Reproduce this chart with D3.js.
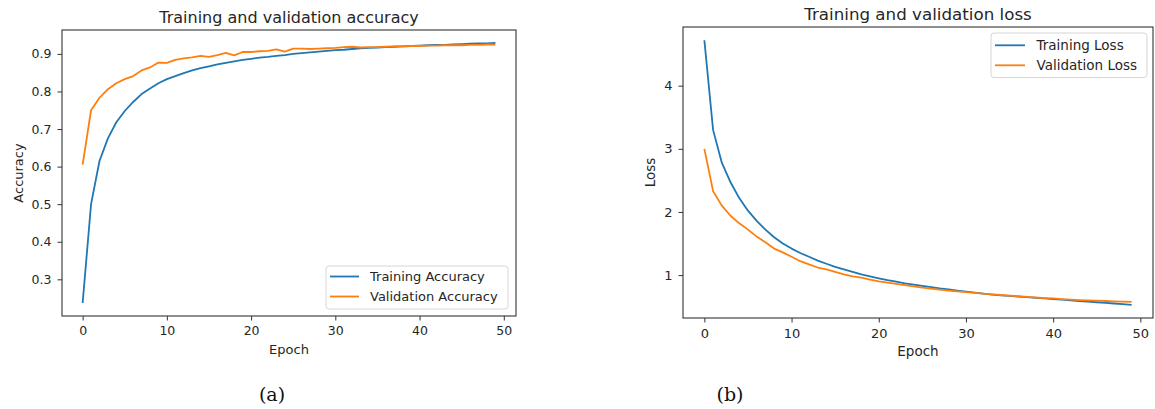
<!DOCTYPE html>
<html>
<head>
<meta charset="utf-8">
<script src="https://cdn.jsdelivr.net/npm/d3@7"></script>
<style>
  body { margin: 0; background: #fff; }
  svg { display: block; font-family: "DejaVu Sans", sans-serif; }
</style>
</head>
<body>
<svg width="1155" height="409"></svg>
<script>
// values (epoch = index)
const trainAcc = [0.237, 0.500, 0.615, 0.675, 0.718, 0.748, 0.772, 0.793, 0.808, 0.822,
  0.833, 0.841, 0.849, 0.856, 0.862, 0.867, 0.872, 0.876, 0.880, 0.884,
  0.887, 0.890, 0.892, 0.895, 0.897, 0.900, 0.902, 0.904, 0.906, 0.908,
  0.910, 0.911, 0.913, 0.915, 0.916, 0.917, 0.918, 0.919, 0.920, 0.921,
  0.922, 0.923, 0.924, 0.924, 0.925, 0.926, 0.927, 0.928, 0.928, 0.929]
const valAcc = [0.605, 0.750, 0.783, 0.806, 0.822, 0.833, 0.841, 0.856, 0.864, 0.877,
  0.876, 0.884, 0.888, 0.891, 0.895, 0.892, 0.897, 0.903, 0.896, 0.905,
  0.905, 0.907, 0.908, 0.912, 0.906, 0.914, 0.914, 0.913, 0.914, 0.915,
  0.916, 0.918, 0.919, 0.917, 0.918, 0.918, 0.919, 0.920, 0.920, 0.921,
  0.921, 0.922, 0.922, 0.923, 0.923, 0.923, 0.924, 0.924, 0.925, 0.925]
const trainLoss = [4.72, 3.30, 2.78, 2.47, 2.22, 2.02, 1.86, 1.72, 1.60, 1.50,
  1.42, 1.35, 1.29, 1.23, 1.18, 1.13, 1.09, 1.05, 1.01, 0.98,
  0.95, 0.92, 0.895, 0.87, 0.85, 0.83, 0.81, 0.79, 0.775, 0.755,
  0.738, 0.722, 0.706, 0.692, 0.68, 0.67, 0.66, 0.65, 0.64, 0.63,
  0.62, 0.61, 0.60, 0.59, 0.58, 0.57, 0.56, 0.55, 0.54, 0.53]
const valLoss = [3.00, 2.33, 2.10, 1.94, 1.82, 1.72, 1.61, 1.52, 1.42, 1.36,
  1.29, 1.22, 1.17, 1.12, 1.09, 1.05, 1.01, 0.98, 0.96, 0.93,
  0.90, 0.88, 0.86, 0.84, 0.82, 0.80, 0.785, 0.77, 0.755, 0.742,
  0.73, 0.72, 0.705, 0.695, 0.685, 0.675, 0.665, 0.655, 0.645, 0.636,
  0.63, 0.62, 0.612, 0.605, 0.60, 0.595, 0.59, 0.585, 0.58, 0.575]

const epochTicks = [0, 10, 20, 30, 40, 50]
const accTicks = [0.3, 0.4, 0.5, 0.6, 0.7, 0.8, 0.9]
const lossTicks = [1, 2, 3, 4]

const BLUE = '#1f77b4'
const ORANGE = '#ff7f0e'
const INK = '#262626'

const svg = d3.select('svg')
svg.append('rect').attr('width', 1155).attr('height', 409).attr('fill', '#fff')

// matplotlib style 5% padding around the data
function padded(lo, hi) {
    const m = (hi - lo) * 0.05
    return [lo - m, hi + m]
}

function drawPanel(p) {
    const g = svg.append('g')
    const n = p.series[0].values.length

    const x = d3.scaleLinear().domain(padded(0, n - 1)).range([p.box.x0, p.box.x1])
    const all = p.series.flatMap(s => s.values)
    const y = d3.scaleLinear().domain(padded(d3.min(all), d3.max(all))).range([p.box.y1, p.box.y0])

    // axes
    const xAxis = g.append('g')
        .attr('transform', `translate(0, ${p.box.y1})`)
        .call(d3.axisBottom(x).tickValues(epochTicks).tickSize(4.5).tickPadding(6).tickSizeOuter(0))
    const yAxis = g.append('g')
        .attr('transform', `translate(${p.box.x0}, 0)`)
        .call(d3.axisLeft(y).tickValues(p.yTicks).tickFormat(p.yFormat).tickSize(4.5).tickPadding(6).tickSizeOuter(0))

    for (const a of [xAxis, yAxis]) {
        a.select('.domain').remove()
        a.selectAll('line').attr('stroke', '#333').attr('stroke-width', 1)
        a.selectAll('text').attr('fill', INK).style('font-size', p.tickFont + 'px')
            .style('font-family', '"DejaVu Sans", sans-serif')
    }

    // lines
    const line = d3.line().x((d, i) => x(i)).y(d => y(d))
    p.series.forEach(s => {
        g.append('path')
            .datum(s.values)
            .attr('d', line)
            .attr('fill', 'none')
            .attr('stroke', s.color)
            .attr('stroke-width', 1.8)
            .attr('stroke-linejoin', 'round')
    })

    // frame
    g.append('rect')
        .attr('x', p.box.x0).attr('y', p.box.y0)
        .attr('width', p.box.x1 - p.box.x0).attr('height', p.box.y1 - p.box.y0)
        .attr('fill', 'none').attr('stroke', '#333').attr('stroke-width', 1.1)

    // title and axis labels
    g.append('text')
        .attr('x', (p.box.x0 + p.box.x1) / 2).attr('y', p.titleY)
        .attr('text-anchor', 'middle').attr('fill', INK)
        .style('font-size', p.titleFont + 'px')
        .text(p.title)
    g.append('text')
        .attr('x', (p.box.x0 + p.box.x1) / 2).attr('y', p.xLabelY)
        .attr('text-anchor', 'middle').attr('fill', INK)
        .style('font-size', p.labelFont + 'px')
        .text('Epoch')
    g.append('text')
        .attr('transform', `translate(${p.yLabelX}, ${(p.box.y0 + p.box.y1) / 2}) rotate(-90)`)
        .attr('text-anchor', 'middle').attr('fill', INK)
        .style('font-size', p.labelFont + 'px')
        .text(p.yLabel)

    // legend
    const lg = g.append('g').attr('transform', `translate(${p.legend.x}, ${p.legend.y})`)
    lg.append('rect')
        .attr('width', p.legend.w).attr('height', p.legend.h)
        .attr('rx', 3)
        .attr('fill', '#fff').attr('fill-opacity', 0.8)
        .attr('stroke', '#d6d6d6').attr('stroke-width', 1)
    p.series.forEach((s, i) => {
        const cy = p.legend.row0 + i * p.legend.step
        lg.append('line')
            .attr('x1', 4).attr('x2', 4 + p.legend.handle)
            .attr('y1', cy).attr('y2', cy)
            .attr('stroke', s.color).attr('stroke-width', 1.8)
        lg.append('text')
            .attr('x', p.legend.textX).attr('y', cy)
            .attr('dominant-baseline', 'central').attr('fill', INK)
            .style('font-size', p.labelFont + 'px')
            .text(s.name)
    })

    // sub-figure caption
    svg.append('text')
        .attr('x', p.caption.x).attr('y', 401)
        .attr('text-anchor', 'middle').attr('fill', '#111')
        .style('font-family', '"DejaVu Serif", serif')
        .style('font-size', '19px')
        .text(p.caption.text)
}

drawPanel({
    box: { x0: 62, x1: 516, y0: 30, y1: 316 },
    series: [
        { name: 'Training Accuracy', values: trainAcc, color: BLUE },
        { name: 'Validation Accuracy', values: valAcc, color: ORANGE }
    ],
    yTicks: accTicks,
    yFormat: d3.format('.1f'),
    title: 'Training and validation accuracy',
    yLabel: 'Accuracy',
    titleY: 23, titleFont: 16,
    tickFont: 12.5, labelFont: 13,
    xLabelY: 354, yLabelX: 23,
    legend: { x: 326, y: 266, w: 182, h: 43, row0: 10.5, step: 20, handle: 29, textX: 44 },
    caption: { x: 272, text: '(a)' }
})

drawPanel({
    box: { x0: 683, x1: 1153, y0: 27, y1: 318 },
    series: [
        { name: 'Training Loss', values: trainLoss, color: BLUE },
        { name: 'Validation Loss', values: valLoss, color: ORANGE }
    ],
    yTicks: lossTicks,
    yFormat: d3.format('d'),
    title: 'Training and validation loss',
    yLabel: 'Loss',
    titleY: 19.5, titleFont: 16.7,
    tickFont: 13, labelFont: 13.5,
    xLabelY: 356, yLabelX: 655,
    legend: { x: 991, y: 33, w: 156, h: 44.5, row0: 12.3, step: 20, handle: 30, textX: 45.5 },
    caption: { x: 730, text: '(b)' }
})
</script>
</body>
</html>
